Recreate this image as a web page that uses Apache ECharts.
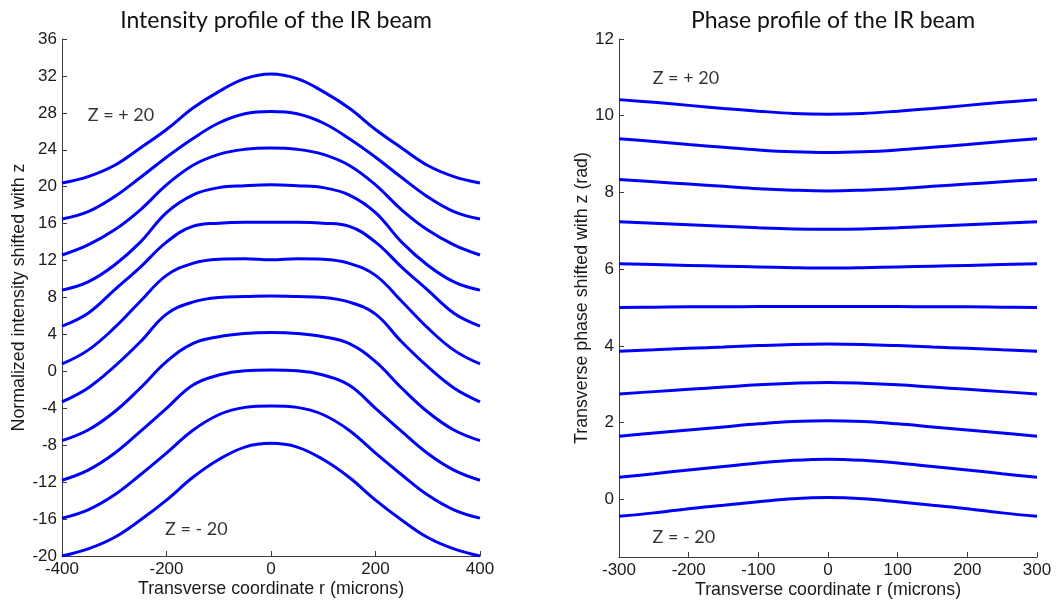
<!DOCTYPE html>
<html>
<head>
<meta charset="utf-8">
<script src="https://cdn.jsdelivr.net/npm/echarts@6/dist/echarts.min.js"></script>
<style>html,body{margin:0;padding:0;background:#fff}#c{width:1061px;height:600px}</style>
</head>
<body>
<div id="c"></div>
<script>
// ---- data ----
const rLeft = [-400,-350,-300,-250,-200,-150,-100,-50,0,50,100,150,200,250,300,350,400];
const I0  = [-20,-19.23,-18.0,-16.1,-13.95,-11.5,-9.55,-8.2,-7.8,-8.2,-9.55,-11.5,-13.95,-16.1,-18.0,-19.23,-20];
const I1  = [-15.9,-15.0,-13.4,-11.2,-8.85,-6.4,-4.7,-3.9,-3.75,-3.9,-4.7,-6.4,-8.85,-11.2,-13.4,-15.0,-15.9];
const I2  = [-11.8,-10.7,-8.9,-6.5,-4.0,-1.5,-0.4,0.07,0.15,0.07,-0.4,-1.5,-4.0,-6.5,-8.9,-10.7,-11.8];
const I3  = [-7.5,-6.35,-4.4,-1.8,1.05,3.0,3.75,4.1,4.2,4.1,3.75,3.0,1.05,-1.8,-4.4,-6.35,-7.5];
const I4  = [-3.3,-1.8,0.5,3.2,6.2,7.5,8.0,8.1,8.15,8.1,8.0,7.5,6.2,3.2,0.5,-1.8,-3.3];
const I5  = [0.8,2.3,4.7,7.6,10.4,11.7,12.15,12.2,12.08,12.2,12.15,11.7,10.4,7.6,4.7,2.3,0.8];
const I6  = [4.9,6.3,8.8,11.3,14.0,15.7,16.05,16.15,16.15,16.15,16.05,15.7,14.0,11.3,8.8,6.3,4.9];
const I7  = [8.8,9.7,11.5,14.0,17.2,19.1,19.9,20.1,20.2,20.1,19.9,19.1,17.2,14.0,11.5,9.7,8.8];
const I8  = [12.6,13.7,15.3,17.5,20.2,22.3,23.5,24.05,24.2,24.05,23.5,22.3,20.2,17.5,15.3,13.7,12.6];
const I9  = [16.5,17.3,18.9,21.0,23.2,25.2,26.9,27.9,28.15,27.9,26.9,25.2,23.2,21.0,18.9,17.3,16.5];
const I10 = [20.4,21.1,22.3,24.2,26.2,28.5,30.3,31.7,32.2,31.7,30.3,28.5,26.2,24.2,22.3,21.1,20.4];
const intensityCurves = [I0,I1,I2,I3,I4,I5,I6,I7,I8,I9,I10];

const rRight = [-300,-250,-200,-150,-100,-50,0,50,100,150,200,250,300];
const P0  = [-0.44,-0.35,-0.24,-0.15,-0.06,0.02,0.05,0.02,-0.06,-0.15,-0.24,-0.35,-0.44];
const P1  = [0.58,0.67,0.77,0.86,0.95,1.02,1.05,1.02,0.95,0.86,0.77,0.67,0.58];
const P2  = [1.65,1.73,1.81,1.89,1.97,2.03,2.05,2.03,1.97,1.89,1.81,1.73,1.65];
const P3  = [2.75,2.81,2.87,2.93,2.99,3.03,3.05,3.03,2.99,2.93,2.87,2.81,2.75];
const P4  = [3.86,3.90,3.94,3.97,4.01,4.04,4.05,4.04,4.01,3.97,3.94,3.90,3.86];
const P5  = [5.00,5.01,5.02,5.02,5.03,5.03,5.03,5.03,5.03,5.02,5.02,5.01,5.00];
const P6  = [6.14,6.12,6.10,6.08,6.06,6.04,6.03,6.04,6.06,6.08,6.10,6.12,6.14];
const P7  = [7.24,7.20,7.16,7.12,7.08,7.05,7.04,7.05,7.08,7.12,7.16,7.20,7.24];
const P8  = [8.34,8.28,8.22,8.16,8.10,8.06,8.04,8.06,8.10,8.16,8.22,8.28,8.34];
const P9  = [9.40,9.33,9.25,9.18,9.11,9.06,9.04,9.06,9.11,9.18,9.25,9.33,9.40];
const P10 = [10.42,10.35,10.27,10.19,10.12,10.06,10.04,10.06,10.12,10.19,10.27,10.35,10.42];
const phaseCurves = [P0,P1,P2,P3,P4,P5,P6,P7,P8,P9,P10];

const leftYTicks = [-20,-16,-12,-8,-4,0,4,8,12,16,20,24,28,32,36];
const rightYTicks = [0,2,4,6,8,10,12];
const leftNotes = [{text:'Z = + 20', x:-287, y:27.8},{text:'Z = - 20', x:-143, y:-17.1}];
const rightNotes = [{text:'Z = + 20', x:-204, y:10.98},{text:'Z = - 20', x:-207, y:-0.99}];

const titles = ['Intensity profile of the IR beam','Phase profile of the IR beam'];
const xNames = ['Transverse coordinate r (microns)','Transverse coordinate r (microns)'];
const yNames = ['Normalized intensity shifted with z','Transverse phase shifted with z (rad)'];

// ---- chart ----
const zip = (xs, ys) => xs.map((x,i)=>[x, ys[i]]);
const blue = '#0000FF';
const axisCol = '#3c3c3c';
const txtCol = '#1a1a1a';
const tickFont = {fontFamily:'Liberation Sans', fontSize:17, color:txtCol};
const nameFont = {fontFamily:'Liberation Sans', fontSize:17.8, color:txtCol};

function xAx(idx, min, max, interval){
  return {type:'value', gridIndex:idx, min, max, interval,
    name:xNames[idx], nameLocation:'middle', nameGap:24, nameMoveOverlap:false,
    nameTextStyle:nameFont,
    axisLine:{show:true, onZero:false, lineStyle:{color:axisCol, width:1}},
    axisTick:{show:true, inside:true, length:5, lineStyle:{color:axisCol}},
    axisLabel:Object.assign({margin:5, showMinLabel:true, showMaxLabel:true}, tickFont),
    splitLine:{show:false}};
}
const chart = echarts.init(document.getElementById('c'), null, {renderer:'canvas'});
const series = [];
intensityCurves.forEach((c,i)=>series.push({type:'line', xAxisIndex:0, yAxisIndex:0, data:zip(rLeft,c),
  smooth:0.4, symbol:'none', lineStyle:{color:blue, width:3}, silent:true}));
phaseCurves.forEach((c,i)=>series.push({type:'line', xAxisIndex:1, yAxisIndex:1, data:zip(rRight,c),
  smooth:0.4, symbol:'none', lineStyle:{color:blue, width:3}, silent:true}));
const noteLabel = {show:true, position:'inside', formatter:p=>p.data.name, fontFamily:'Lato', fontSize:18, color:'#000'};
series.push({type:'scatter', xAxisIndex:0, yAxisIndex:0, symbolSize:1, itemStyle:{color:'transparent'},
  data:leftNotes.map(n=>({name:n.text, value:[n.x,n.y]})), label:noteLabel, silent:true});
series.push({type:'scatter', xAxisIndex:1, yAxisIndex:1, symbolSize:1, itemStyle:{color:'transparent'},
  data:rightNotes.map(n=>({name:n.text, value:[n.x,n.y]})), label:noteLabel, silent:true});

chart.setOption({
  animation:false,
  backgroundColor:'#fff',
  title:[
    {text:titles[0], left:271, top:4, textAlign:'center', textStyle:{fontFamily:'Lato', fontWeight:'normal', fontSize:23, color:'#111'}},
    {text:titles[1], left:828, top:4, textAlign:'center', textStyle:{fontFamily:'Lato', fontWeight:'normal', fontSize:23, color:'#111'}}
  ],
  grid:[
    {left:62, top:39, width:418, height:517, containLabel:false, outerBoundsMode:'none'},
    {left:619, top:39, width:418, height:518, containLabel:false, outerBoundsMode:'none'}
  ],
  xAxis:[xAx(0,-400,400,200), xAx(1,-300,300,100)],
  yAxis:[
    {type:'value', gridIndex:0, min:-20, max:36, interval:4,
     name:yNames[0], nameLocation:'middle', nameGap:33,
     nameTextStyle:nameFont,
     axisLine:{show:true, onZero:false, lineStyle:{color:axisCol}},
     axisTick:{show:true, inside:true, length:5, lineStyle:{color:axisCol}},
     axisLabel:Object.assign({margin:5, customValues:leftYTicks}, tickFont),
     splitLine:{show:false}},
    {type:'value', gridIndex:1, min:-1.5, max:12,
     name:yNames[1], nameLocation:'middle', nameGap:26,
     nameTextStyle:nameFont,
     axisLine:{show:true, onZero:false, lineStyle:{color:axisCol}},
     axisTick:{show:true, inside:true, length:5, customValues:rightYTicks, lineStyle:{color:axisCol}},
     axisLabel:Object.assign({margin:5, customValues:rightYTicks}, tickFont),
     splitLine:{show:false}}
  ],
  series
});
</script>
</body>
</html>
